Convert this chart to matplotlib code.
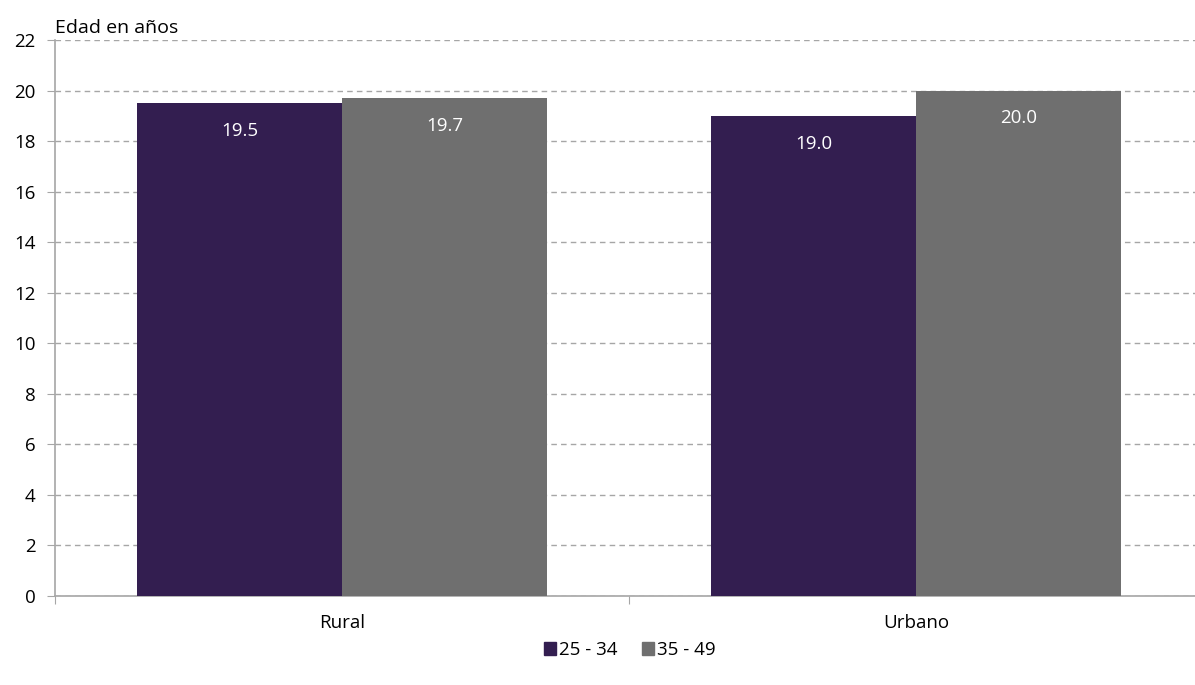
import numpy as np
import matplotlib
matplotlib.use("Agg")
import matplotlib.pyplot as plt
from matplotlib.patches import Patch

categorias = ["Rural", "Urbano"]
series = ["25 - 34", "35 - 49"]
edad_25_34 = [19.5, 19.0]
edad_35_49 = [19.7, 20.0]
colores = ["#331e50", "#6f6f6f"]

plt.rcParams["font.family"] = ["Open Sans", "DejaVu Sans"]

fig = plt.figure(figsize=(11.95, 6.85), dpi=100)
ax = fig.add_axes([55 / 1195, 89 / 685, 1148 / 1195, 556 / 685])

x = np.arange(len(categorias))
w = 0.357
for i, (vals, c) in enumerate(zip([edad_25_34, edad_35_49], colores)):
    pos = x + (i - 0.5) * w
    ax.bar(pos, vals, width=w, color=c, zorder=3)
    for p, v in zip(pos, vals):
        ax.text(p, v - 1.1, f"{v:.1f}", ha="center", va="center",
                color="white", fontsize=13.5, zorder=4)

ax.set_xlim(-0.5, 1.5)
ax.set_ylim(0, 22)
ax.set_yticks(range(0, 23, 2))
ax.tick_params(axis="y", labelsize=13.5, length=6, color="#a6a6a6", pad=8)
ax.yaxis.grid(True, linestyle=(0, (4, 3)), color="#a6a6a6", lw=1, zorder=0)

ax.set_xticks([-0.5, 0.5, 1.5])
ax.set_xticklabels([])
ax.set_xticks(x, minor=True)
ax.set_xticklabels(categorias, minor=True)
ax.tick_params(axis="x", which="major", length=6, color="#a6a6a6")
ax.tick_params(axis="x", which="minor", length=0, labelsize=13.5, pad=13)

for s in ["top", "right"]:
    ax.spines[s].set_visible(False)
for s in ["left", "bottom"]:
    ax.spines[s].set_color("#a6a6a6")
    ax.spines[s].set_linewidth(1.2)

ax.text(0, 1.005, "Edad en años", transform=ax.transAxes, fontsize=14,
        ha="left", va="bottom")

handles = [Patch(color=c, label=s) for c, s in zip(colores, series)]
fig.legend(handles=handles, loc="center", bbox_to_anchor=(630 / 1195, 1 - 650 / 685),
           ncol=2, frameon=False, fontsize=13.5, handlelength=0.65,
           handleheight=0.65, handletextpad=0.15, columnspacing=1.3)

fig.savefig("out.png", dpi=100, facecolor="white")
